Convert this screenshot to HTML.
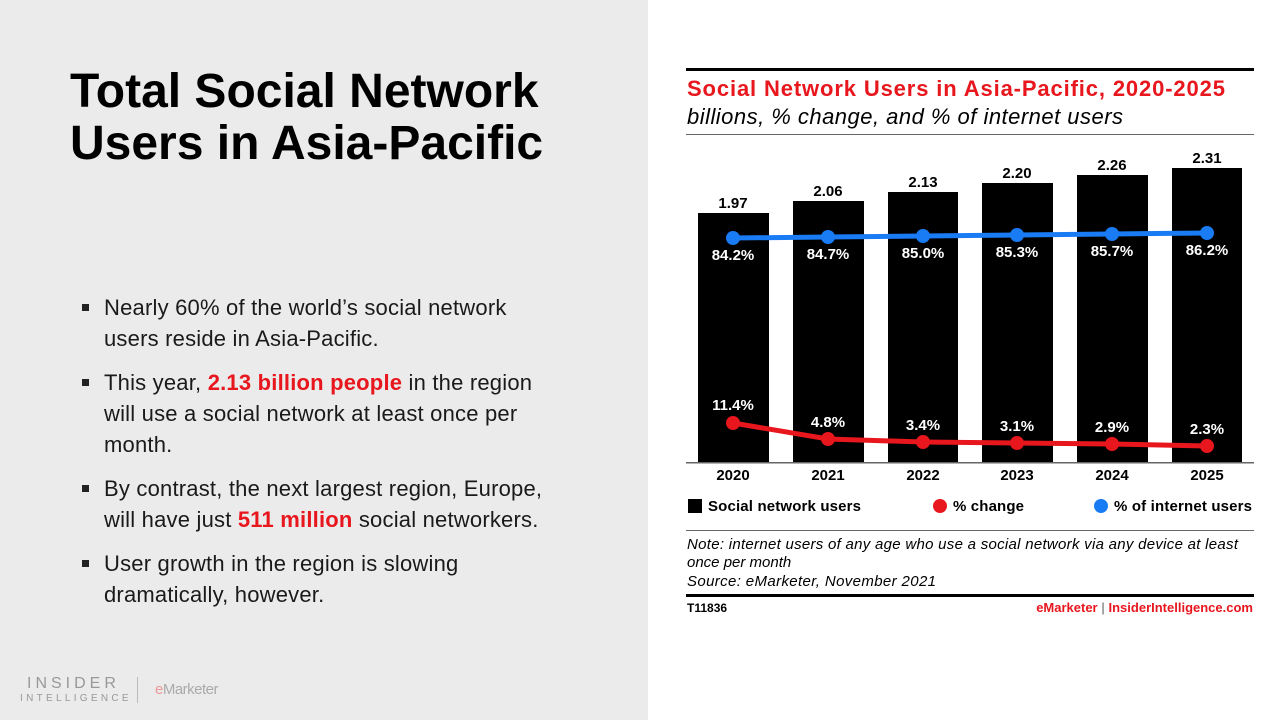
<!DOCTYPE html>
<html><head><meta charset="utf-8"><style>
body{margin:0;width:1280px;height:720px;position:relative;font-family:"Liberation Sans",sans-serif;overflow:hidden;background:#fff}
#left{position:absolute;left:0;top:0;width:648px;height:720px;background:#ebebeb}
h1{position:absolute;left:70px;top:66px;margin:0;font-size:48px;line-height:52px;font-weight:bold;color:#000}
ul{position:absolute;left:80px;top:292px;margin:0;padding:0;list-style:none;width:480px}
li{position:relative;padding-left:24px;font-size:22px;line-height:31px;color:#1a1a1a;margin-bottom:13px;letter-spacing:0.2px}
li:before{content:"";position:absolute;left:2px;top:12px;width:7px;height:7px;background:#222}
.r{color:#e8161d;font-weight:bold}
</style></head><body>
<div id="left">
<h1>Total Social Network<br>Users in Asia-Pacific</h1>
<ul>
<li>Nearly 60% of the world’s social network users reside in Asia-Pacific.</li>
<li>This year, <span class="r">2.13 billion people</span> in the region will use a social network at least once per month.</li>
<li>By contrast, the next largest region, Europe, will have just <span class="r">511 million</span> social networkers.</li>
<li>User growth in the region is slowing dramatically, however.</li>
</ul>
<div style="position:absolute;left:27px;top:675px;font-size:16px;letter-spacing:4px;color:#999">INSIDER</div>
<div style="position:absolute;left:20px;top:693px;font-size:10px;letter-spacing:3.3px;color:#999">INTELLIGENCE</div>
<div style="position:absolute;left:137px;top:677px;width:1px;height:26px;background:#bbb"></div>
<div style="position:absolute;left:155px;top:681px;font-size:15px;color:#aaa;letter-spacing:-0.5px"><span style="color:#e99">e</span>Marketer</div>
</div>
<svg style="position:absolute;left:0;top:0" width="1280" height="720" font-family="Liberation Sans, sans-serif">
<rect x="686" y="68" width="568" height="3" fill="#000"/>
<text x="687" y="96" font-size="22" font-weight="bold" fill="#e8161d" textLength="538">Social Network Users in Asia-Pacific, 2020-2025</text>
<text x="687" y="124" font-size="22" font-style="italic" fill="#000" textLength="436">billions, % change, and % of internet users</text>
<rect x="686" y="134" width="568" height="1" fill="#666"/>
<g fill="#000">
<rect x="698" y="213" width="71" height="249"/>
<rect x="793" y="201" width="71" height="261"/>
<rect x="888" y="192" width="70" height="270"/>
<rect x="982" y="183" width="71" height="279"/>
<rect x="1077" y="175" width="71" height="287"/>
<rect x="1172" y="168" width="70" height="294"/>
</g>
<rect x="686" y="462" width="568" height="1.5" fill="#666"/>
<g font-size="15" font-weight="bold" text-anchor="middle" fill="#000">
<text x="733" y="208">1.97</text><text x="828" y="196">2.06</text><text x="923" y="187">2.13</text><text x="1017" y="178">2.20</text><text x="1112" y="170">2.26</text><text x="1207" y="163">2.31</text>
<text x="733" y="480">2020</text><text x="828" y="480">2021</text><text x="923" y="480">2022</text><text x="1017" y="480">2023</text><text x="1112" y="480">2024</text><text x="1207" y="480">2025</text>
</g>
<polyline points="733,238 828,237 923,236 1017,235 1112,234 1207,233" fill="none" stroke="#1a7cf5" stroke-width="5"/>
<g fill="#1a7cf5"><circle cx="733" cy="238" r="7"/><circle cx="828" cy="237" r="7"/><circle cx="923" cy="236" r="7"/><circle cx="1017" cy="235" r="7"/><circle cx="1112" cy="234" r="7"/><circle cx="1207" cy="233" r="7"/></g>
<g font-size="15" font-weight="bold" text-anchor="middle" fill="#fff">
<text x="733" y="260">84.2%</text><text x="828" y="259">84.7%</text><text x="923" y="258">85.0%</text><text x="1017" y="257">85.3%</text><text x="1112" y="256">85.7%</text><text x="1207" y="255">86.2%</text>
</g>
<polyline points="733,423 828,439 923,442 1017,443 1112,444 1207,446" fill="none" stroke="#e8161d" stroke-width="5"/>
<g fill="#e8161d"><circle cx="733" cy="423" r="7"/><circle cx="828" cy="439" r="7"/><circle cx="923" cy="442" r="7"/><circle cx="1017" cy="443" r="7"/><circle cx="1112" cy="444" r="7"/><circle cx="1207" cy="446" r="7"/></g>
<g font-size="15" font-weight="bold" text-anchor="middle" fill="#fff">
<text x="733" y="410">11.4%</text><text x="828" y="427">4.8%</text><text x="923" y="430">3.4%</text><text x="1017" y="431">3.1%</text><text x="1112" y="432">2.9%</text><text x="1207" y="434">2.3%</text>
</g>
<rect x="688" y="499" width="14" height="14" fill="#000"/>
<text x="708" y="511" font-size="15" font-weight="bold" textLength="153">Social network users</text>
<circle cx="940" cy="506" r="7" fill="#e8161d"/>
<text x="953" y="511" font-size="15" font-weight="bold" textLength="71">% change</text>
<circle cx="1101" cy="506" r="7" fill="#1a7cf5"/>
<text x="1114" y="511" font-size="15" font-weight="bold" textLength="138">% of internet users</text>
<rect x="686" y="530" width="568" height="1" fill="#666"/>
<g font-size="15" font-style="italic" fill="#000">
<text x="687" y="549" textLength="551">Note: internet users of any age who use a social network via any device at least</text>
<text x="687" y="567">once per month</text>
<text x="687" y="586" textLength="249">Source: eMarketer, November 2021</text>
</g>
<rect x="686" y="594" width="568" height="3" fill="#000"/>
<text x="687" y="612" font-size="12" font-weight="bold">T11836</text>
<text x="1253" y="612" font-size="13" font-weight="bold" text-anchor="end"><tspan fill="#e8161d">eMarketer</tspan><tspan fill="#999">  |  </tspan><tspan fill="#e8161d">InsiderIntelligence.com</tspan></text>
</svg>
</body></html>
